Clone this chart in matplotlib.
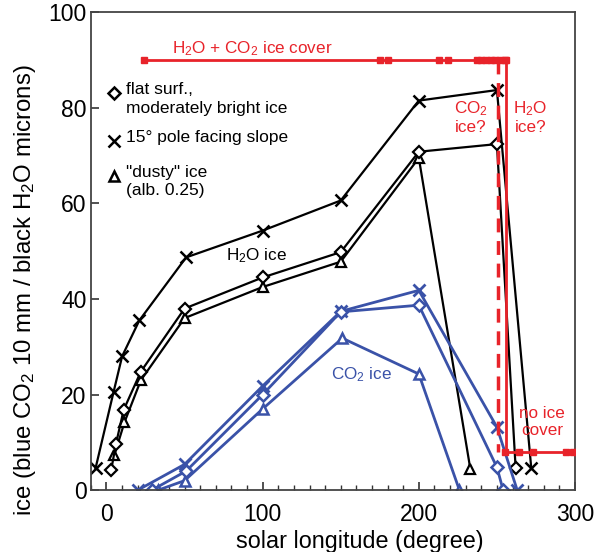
import matplotlib
matplotlib.use("Agg")
import matplotlib.pyplot as plt
from matplotlib.ticker import MultipleLocator

plt.rcParams['font.family'] = ['Liberation Sans', 'DejaVu Sans']
plt.rcParams['mathtext.fontset'] = 'custom'
plt.rcParams['mathtext.rm'] = 'Liberation Sans'
plt.rcParams['mathtext.it'] = 'Liberation Sans:italic'

RED = '#e8232a'
BLUE = '#3a52a8'

# === H2O ice (black) ===
h2o_flat_x = [3, 6, 11, 22, 50, 100, 150, 200, 250, 262]
h2o_flat_y = [4.2, 9.6, 16.8, 24.8, 38, 44.5, 49.8, 70.8, 72.4, 4.6]

h2o_slope_x = [-7, 4.5, 10, 21, 51, 100, 150, 200, 250, 272]
h2o_slope_y = [4.6, 20.5, 28, 35.5, 48.7, 54.3, 60.6, 81.5, 83.7, 4.6]

h2o_dusty_x = [5, 11.5, 22, 50, 100, 150, 200, 233]
h2o_dusty_y = [7.3, 14.2, 23, 36, 42.5, 47.8, 69.5, 4.4]

# === CO2 ice (blue) ===
co2_flat_x = [29, 51, 100, 150, 200, 250, 254]
co2_flat_y = [0, 4, 20, 37.3, 38.7, 4.8, 0]

co2_slope_x = [20, 50, 100, 150, 200, 250, 263]
co2_slope_y = [0, 5.4, 21.8, 37.4, 41.8, 13.2, 0]

co2_dusty_x = [33, 50, 100, 151, 200, 226]
co2_dusty_y = [0, 2, 17, 31.8, 24.3, 0]

# === observed ice cover (red) ===
cover_top_x = [24, 175, 180, 213, 219, 237, 240, 243, 246, 249, 252, 255, 256]
cover_top_y = 90
cover_end_x = 256
cover_q_x = 251          # dashed "CO2 ice?" limit
no_cover_x = [255, 264, 273, 294, 299, 301]
no_cover_y = 7.9

fig = plt.figure(figsize=(5.94, 5.52), dpi=100)
ax = fig.add_axes([0.153, 0.112, 0.815, 0.866])

mk = dict(markerfacecolor='white', markeredgewidth=1.6, linewidth=1.6)
ax.plot(h2o_slope_x, h2o_slope_y, color='black', marker='x', markersize=8, linewidth=1.6, markeredgewidth=1.8)
ax.plot(h2o_dusty_x, h2o_dusty_y, color='black', marker='^', markersize=7, **mk)
ax.plot(h2o_flat_x, h2o_flat_y, color='black', marker='D', markersize=6, **mk)

ax.plot(co2_slope_x, co2_slope_y, color=BLUE, marker='x', markersize=8, linewidth=2, markeredgewidth=2)
ax.plot(co2_dusty_x, co2_dusty_y, color=BLUE, marker='^', markersize=7, markerfacecolor='white', markeredgewidth=1.8, linewidth=2)
ax.plot(co2_flat_x, co2_flat_y, color=BLUE, marker='D', markersize=6, markerfacecolor='white', markeredgewidth=1.8, linewidth=2)

# red cover lines
ax.plot(cover_top_x, [cover_top_y] * len(cover_top_x), color=RED, lw=2, marker='s', markersize=5, zorder=5)
ax.plot([cover_end_x, cover_end_x], [cover_top_y, no_cover_y], color=RED, lw=2, zorder=5)
ax.plot([cover_q_x, cover_q_x], [cover_top_y, no_cover_y], color=RED, lw=2.5, ls=(0, (4, 2.5)), zorder=5)
ax.plot(no_cover_x, [no_cover_y] * len(no_cover_x), color=RED, lw=2, marker='s', markersize=5, zorder=5)

# annotations
ax.text(42, 92.3, r'H$_\mathrm{2}$O + CO$_\mathrm{2}$ ice cover', color=RED, fontsize=12.3, va='center')
ax.text(233.5, 78, 'CO$_\\mathrm{2}$\nice?', color=RED, fontsize=12.3, ha='center', va='center', linespacing=1.15)
ax.text(271.5, 78, 'H$_\\mathrm{2}$O\nice?', color=RED, fontsize=12.3, ha='center', va='center', linespacing=1.15)
ax.text(279, 14.2, 'no ice\ncover', color=RED, fontsize=12.3, ha='center', va='center', linespacing=1.15)
ax.text(96, 49, r'H$_\mathrm{2}$O ice', color='black', fontsize=12.3, ha='center', va='center')
ax.text(163.5, 24.2, r'CO$_\mathrm{2}$ ice', color=BLUE, fontsize=12.3, ha='center', va='center')

# hand-made legend
leg = [('D', 'flat surf.,\nmoderately bright ice', 83.1),
       ('x', '15\u00b0 pole facing slope', 73),
       ('^', '"dusty" ice\n(alb. 0.25)', 65.8)]
for m, lab, yy in leg:
    ax.plot([5], [yy], marker=m, color='black', markerfacecolor='white',
            markersize=8 if m == 'x' else 6.5, markeredgewidth=1.8, linestyle='none')
    ax.text(12.2, yy + 2.3, lab, fontsize=12.5, va='top', ha='left', linespacing=1.3)

ax.set_xlim(-10, 300)
ax.set_ylim(0, 100)
ax.xaxis.set_major_locator(MultipleLocator(100))
ax.xaxis.set_minor_locator(MultipleLocator(10))
ax.yaxis.set_major_locator(MultipleLocator(20))
ax.tick_params(axis='both', which='both', direction='in', labelsize=16.5, color='#333333')
ax.tick_params(axis='x', which='major', length=6, width=1.2, pad=9)
ax.tick_params(axis='x', which='minor', length=3.5, width=1)
ax.tick_params(axis='y', which='major', length=6, width=1.2, pad=3)
for s in ax.spines.values():
    s.set_color('#444444')
    s.set_linewidth(1.3)

ax.set_xlabel('solar longitude (degree)', fontsize=16.8)
ax.set_ylabel(r'ice (blue CO$_\mathrm{2}$ 10 mm / black H$_\mathrm{2}$O microns)', fontsize=17.3)
ax.xaxis.set_label_coords(0.556, -0.083)
ax.yaxis.set_label_coords(-0.11, 0.418)

plt.savefig('out.png', dpi=100)
